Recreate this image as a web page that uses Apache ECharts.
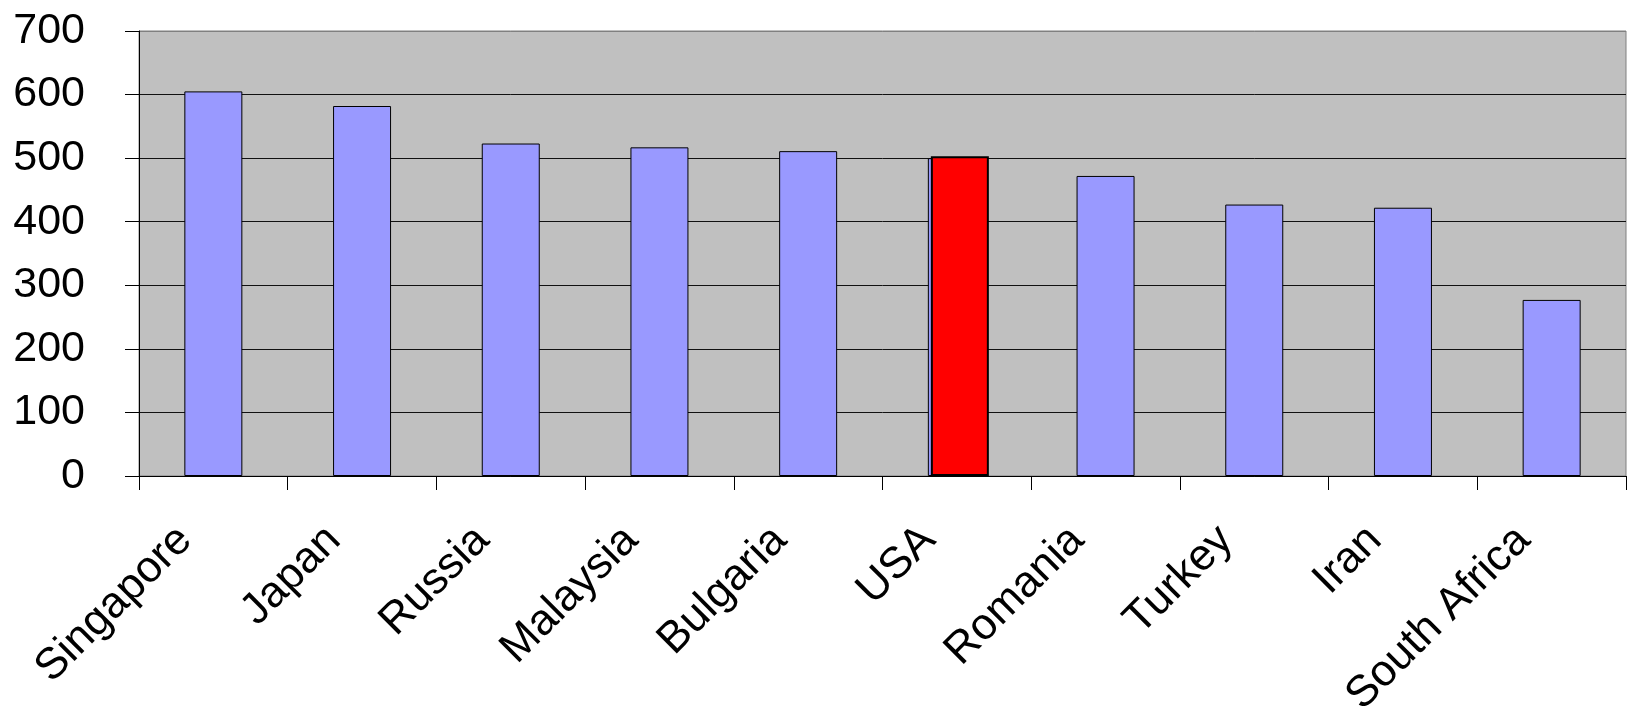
<!DOCTYPE html>
<html>
<head>
<meta charset="utf-8">
<script src="https://cdn.jsdelivr.net/npm/echarts@6/dist/echarts.min.js"></script>
<style>
html,body{margin:0;padding:0;background:#fff;}
#chart{width:1633px;height:706px;}
</style>
</head>
<body>
<div id="chart"></div>
<script>
var categories = ['Singapore', 'Japan', 'Russia', 'Malaysia', 'Bulgaria', 'USA', 'Romania', 'Turkey', 'Iran', 'South Africa'];
var scores = [605, 582, 523, 517, 511, 500, 472, 427, 422, 277];
var highlightCategory = 'USA';
var highlightScore = 503;
var yTicks = [0, 100, 200, 300, 400, 500, 600, 700];

var highlightData = categories.map(function (c) { return c === highlightCategory ? highlightScore : '-'; });
var FONT = '"Liberation Sans", Arial, sans-serif';

var chart = echarts.init(document.getElementById('chart'), null, { renderer: 'canvas' });
chart.setOption({
  animation: false,
  backgroundColor: '#ffffff',
  grid: [
    { left: 139, right: 7, top: 31, bottom: 230, show: true, backgroundColor: '#C0C0C0', borderColor: '#808080', borderWidth: 1, containLabel: false, outerBoundsMode: 'none' },
    { left: 142, right: 4, top: 31, bottom: 230, show: false, containLabel: false, outerBoundsMode: 'none' }
  ],
  xAxis: [
    {
      type: 'category', gridIndex: 0, data: categories, boundaryGap: true,
      axisLine: { show: true, lineStyle: { color: '#000', width: 1 } },
      axisTick: { show: true, inside: false, length: 14, lineStyle: { color: '#000' } },
      axisLabel: { rotate: 45, interval: 0, hideOverlap: false, fontSize: 44, fontFamily: FONT, color: '#000', margin: 29, padding: [0, 40, 0, 0] },
      splitLine: { show: false }
    },
    { type: 'category', gridIndex: 1, data: categories, show: false }
  ],
  yAxis: [
    {
      type: 'value', gridIndex: 0, min: yTicks[0], max: yTicks[yTicks.length - 1], interval: 100,
      axisLine: { show: true, lineStyle: { color: '#000', width: 1 } },
      axisTick: { show: true, inside: false, length: 14, lineStyle: { color: '#000' } },
      axisLabel: { fontSize: 43, fontFamily: FONT, color: '#000', margin: 54, padding: [0, 0, 8, 0] },
      splitLine: { show: true, lineStyle: { color: ['#111', '#111', '#111', '#111', '#111', '#111', '#111', '#808080'], width: 1 } }
    },
    { type: 'value', gridIndex: 1, min: yTicks[0], max: yTicks[yTicks.length - 1], interval: 100, show: false, splitLine: { show: false } }
  ],
  series: [
    {
      type: 'bar', xAxisIndex: 0, yAxisIndex: 0, data: scores, barWidth: 58,
      itemStyle: { color: '#9999FF', borderColor: '#000', borderWidth: 1 }, z: 2
    },
    {
      type: 'bar', xAxisIndex: 1, yAxisIndex: 1, data: highlightData, barWidth: 58,
      itemStyle: { color: '#FF0000', borderColor: '#000', borderWidth: 2 }, z: 3
    }
  ]
});
</script>
</body>
</html>
